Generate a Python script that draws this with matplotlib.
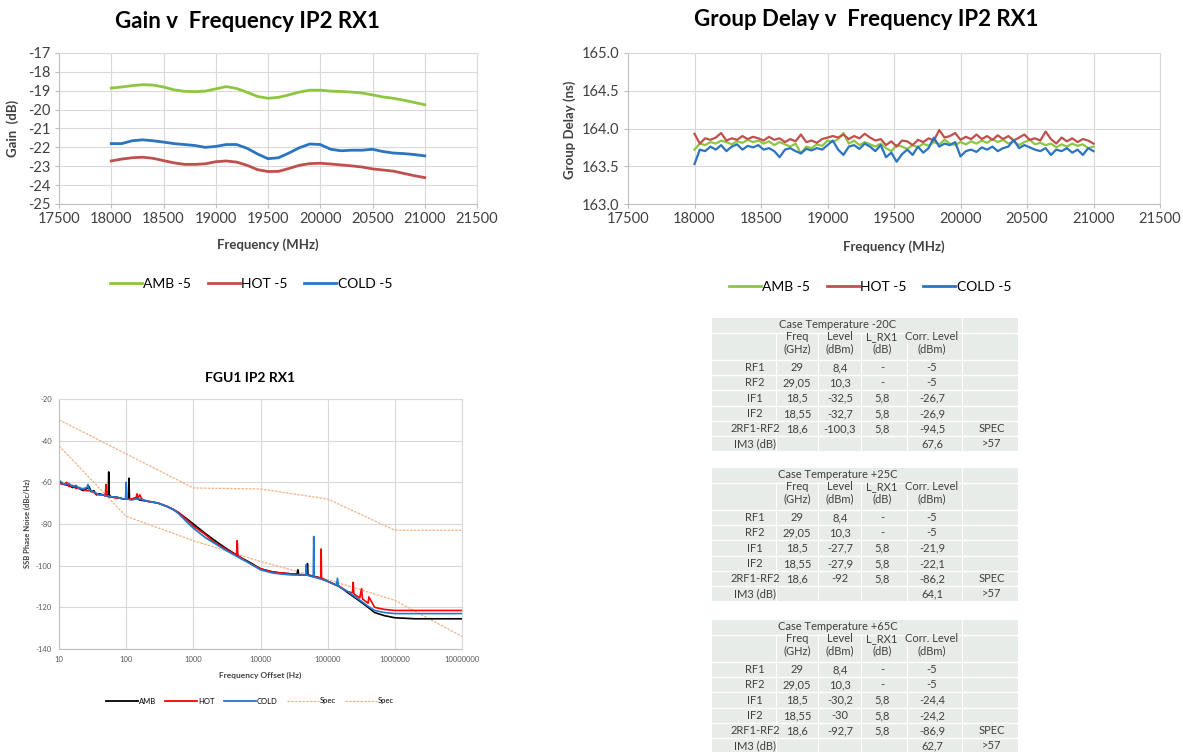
import numpy as np
import matplotlib
matplotlib.use("Agg")
import matplotlib.pyplot as plt
from matplotlib.lines import Line2D
from matplotlib.patches import Rectangle

plt.rcParams['font.family'] = ['Lato', 'DejaVu Sans']
plt.rcParams['axes.unicode_minus'] = False

W, H = 1183, 752

# ---- gain v frequency ----
GAIN_FREQ = [18000, 18100, 18200, 18300, 18400, 18500, 18600, 18700, 18800, 18900,
             19000, 19100, 19200, 19300, 19400, 19500, 19600, 19700, 19800, 19900,
             20000, 20100, 20200, 20300, 20400, 20500, 20600, 20700, 20800, 20900, 21000]
GAIN_AMB = [-18.86, -18.80, -18.73, -18.68, -18.70, -18.80, -18.95, -19.03, -19.05, -19.02,
            -18.90, -18.78, -18.88, -19.08, -19.30, -19.40, -19.35, -19.22, -19.07, -18.97,
            -18.97, -19.02, -19.04, -19.07, -19.12, -19.22, -19.33, -19.40, -19.50, -19.62, -19.74]
GAIN_HOT = [-22.72, -22.62, -22.55, -22.52, -22.58, -22.70, -22.82, -22.90, -22.90, -22.87,
            -22.76, -22.72, -22.78, -22.95, -23.18, -23.28, -23.27, -23.12, -22.95, -22.86,
            -22.84, -22.88, -22.93, -22.98, -23.04, -23.14, -23.20, -23.26, -23.38, -23.50, -23.60]
GAIN_COLD = [-21.80, -21.80, -21.65, -21.60, -21.65, -21.72, -21.80, -21.85, -21.90, -22.00,
             -21.95, -21.85, -21.85, -22.05, -22.35, -22.60, -22.55, -22.30, -22.02, -21.82,
             -21.85, -22.10, -22.18, -22.15, -22.15, -22.10, -22.22, -22.30, -22.33, -22.38, -22.45]

# ---- group delay v frequency (40 MHz measurement grid) ----
GD_FREQ = np.arange(18000, 21001, 40)
GD_AMB = [163.72, 163.80, 163.78, 163.82, 163.80, 163.84, 163.82, 163.79, 163.83, 163.81,
          163.85, 163.82, 163.84, 163.80, 163.83, 163.78, 163.82, 163.79, 163.76, 163.80,
          163.67, 163.76, 163.74, 163.79, 163.77, 163.84, 163.82, 163.86, 163.94, 163.80,
          163.84, 163.78, 163.82, 163.79, 163.76, 163.80, 163.74, 163.70, 163.78, 163.76,
          163.73, 163.78, 163.75, 163.80, 163.77, 163.82, 163.79, 163.85, 163.80, 163.78,
          163.82, 163.79, 163.83, 163.80, 163.84, 163.81, 163.86, 163.82, 163.85, 163.80,
          163.83, 163.78, 163.82, 163.85, 163.79, 163.81, 163.78, 163.80, 163.75, 163.79,
          163.76, 163.80, 163.77, 163.79, 163.74, 163.76]
GD_HOT = [163.93, 163.80, 163.87, 163.85, 163.88, 163.94, 163.84, 163.87, 163.85, 163.90,
          163.86, 163.89, 163.87, 163.84, 163.89, 163.85, 163.87, 163.82, 163.86, 163.83,
          163.92, 163.82, 163.84, 163.81, 163.86, 163.88, 163.90, 163.88, 163.92, 163.86,
          163.90, 163.87, 163.93, 163.88, 163.84, 163.86, 163.78, 163.83, 163.76, 163.84,
          163.83, 163.78, 163.85, 163.82, 163.87, 163.84, 163.98, 163.88, 163.90, 163.94,
          163.85, 163.89, 163.86, 163.92, 163.86, 163.90, 163.85, 163.91, 163.86, 163.90,
          163.84, 163.88, 163.92, 163.85, 163.87, 163.84, 163.96, 163.86, 163.80, 163.88,
          163.83, 163.87, 163.82, 163.86, 163.84, 163.80]
GD_COLD = [163.53, 163.72, 163.70, 163.76, 163.72, 163.78, 163.70, 163.76, 163.79, 163.72,
           163.77, 163.75, 163.78, 163.72, 163.74, 163.70, 163.62, 163.72, 163.74, 163.70,
           163.67, 163.73, 163.71, 163.74, 163.72, 163.78, 163.84, 163.72, 163.65, 163.76,
           163.78, 163.73, 163.80, 163.76, 163.70, 163.78, 163.62, 163.68, 163.56, 163.66,
           163.72, 163.65, 163.76, 163.68, 163.74, 163.88, 163.76, 163.80, 163.78, 163.82,
           163.63, 163.70, 163.72, 163.69, 163.75, 163.72, 163.76, 163.70, 163.74, 163.76,
           163.85, 163.74, 163.78, 163.75, 163.72, 163.70, 163.74, 163.65, 163.72, 163.70,
           163.74, 163.68, 163.72, 163.65, 163.74, 163.70]

# ---- phase noise ----
PN_F_AMB = [10, 12, 14, 16, 18, 20, 23, 26, 28, 30, 33, 36, 40, 45, 50, 54, 55, 56,
            60, 70, 80, 90, 100, 108, 110, 112, 120, 140, 160, 200, 250, 300, 400, 500,
            600, 800, 1000, 1500, 2000, 3000, 5000, 7000, 10000, 15000, 20000, 30000,
            35000, 36000, 37000, 45000, 49000, 50000, 51000, 60000, 80000, 100000,
            150000, 200000, 300000, 400000, 500000, 700000, 1e6, 2e6, 5e6, 1e7]
PN_AMB = [-60, -61, -61.5, -62.5, -62, -63, -64, -63, -62, -64.5, -64, -66, -65.5, -66,
          -66.5, -66, -55, -66, -67, -67, -67.5, -68, -68, -68, -58, -68, -68, -67.5,
          -68.5, -69, -69.5, -70, -71.5, -73, -74.5, -77.5, -80, -84.5, -87.5, -91.5,
          -96, -98.5, -101.5, -103, -103.5, -104, -104, -102, -104.5, -104.5, -104.5,
          -99, -104.5, -105, -106, -107.5, -110, -113, -117, -120, -122.5, -124, -125,
          -125.5, -125.5, -125.5]
PN_F_HOT = [10, 12, 13, 14, 16, 18, 20, 23, 26, 30, 35, 40, 45, 49, 50, 51, 55, 60, 70,
            80, 90, 100, 120, 140, 145, 150, 160, 170, 200, 250, 300, 400, 500, 600, 800,
            1000, 1500, 2000, 3000, 4400, 4500, 4600, 5000, 7000, 10000, 15000, 20000,
            30000, 50000, 60000, 79000, 80000, 81000, 100000, 150000, 200000, 235000,
            240000, 245000, 300000, 320000, 330000, 400000, 410000, 500000, 700000,
            1e6, 2e6, 5e6, 1e7]
PN_HOT = [-60.5, -61, -60, -62, -61.5, -63, -62.5, -63.5, -64, -64, -65.5, -66, -66,
          -66.5, -61, -66.5, -67, -67, -67.5, -67.5, -68, -68, -68, -67.5, -65.5, -67.5,
          -66, -68, -69, -69.5, -70, -71.5, -73, -74.5, -78, -81, -85, -88.5, -92, -95,
          -88, -95, -96, -99, -101.5, -103, -103.5, -104, -104.5, -105, -106, -92, -106,
          -107.5, -110, -112.5, -113, -108, -113.5, -115.5, -111, -116, -118, -115, -120,
          -121, -121.5, -121.5, -121.5, -121.5]
PN_F_COLD = [10, 12, 14, 16, 18, 20, 23, 26, 27, 28, 30, 35, 40, 45, 50, 55, 60, 70, 80,
             90, 98, 100, 102, 120, 140, 160, 200, 250, 300, 400, 500, 600, 800, 1000,
             1500, 2000, 3000, 5000, 7000, 10000, 15000, 20000, 30000, 40000, 47000,
             48000, 49000, 55000, 61000, 62000, 63000, 80000, 100000, 135000, 140000,
             145000, 200000, 300000, 400000, 500000, 700000, 1e6, 2e6, 5e6, 1e7]
PN_COLD = [-59, -61, -60.5, -62, -61.5, -63, -63, -62.5, -61, -63.5, -64, -65, -66, -66,
           -66.5, -66.5, -67, -67, -67.5, -68, -68, -60, -68, -68.5, -68, -68, -69, -69.5,
           -70, -71.5, -73, -75, -79, -82, -86.5, -89, -92.5, -96.5, -99, -102, -103.5,
           -104, -104.5, -104.5, -104.5, -99.5, -104.5, -105, -105.5, -86, -105.5, -106.5,
           -107.5, -109.5, -106, -110, -112.5, -116.5, -119.5, -121.5, -122.5, -123, -123,
           -123, -123]
SPEC1_F = [10, 1000, 10000, 100000, 1e6, 1e7]
SPEC1 = [-30, -62.7, -63.2, -68, -83, -83]
SPEC2_F = [10, 100, 1000, 10000, 100000, 1e6, 1e7]
SPEC2 = [-42.5, -76.3, -88, -98, -106.7, -116.6, -134]

# ---- IM3 tables ----
TEMPS = ['-20C', '+25C', '+65C']
ROW_LABELS = ['RF1', 'RF2', 'IF1', 'IF2', '2RF1-RF2', 'IM3 (dB)']
FREQ_GHZ = ['29', '29,05', '18,5', '18,55', '18,6', '']
L_RX1 = ['-', '-', '5,8', '5,8', '5,8', '']
SPEC_COL = ['', '', '', '', 'SPEC', '>57']
LEVELS = [['8,4', '10,3', '-32,5', '-32,7', '-100,3', ''],
          ['8,4', '10,3', '-27,7', '-27,9', '-92', ''],
          ['8,4', '10,3', '-30,2', '-30', '-92,7', '']]
CORR = [['-5', '-5', '-26,7', '-26,9', '-94,5', '67,6'],
        ['-5', '-5', '-21,9', '-22,1', '-86,2', '64,1'],
        ['-5', '-5', '-24,4', '-24,2', '-86,9', '62,7']]

GREEN, RED, BLUE = '#8dc63f', '#c0504d', '#2a74c0'
TXT = '#404040'


def px_axes(fig, l, t, r, b):
    return fig.add_axes([l / W, 1 - b / H, (r - l) / W, (b - t) / H])


def fig_text(fig, x, y, s, **kw):
    fig.text(x / W, 1 - y / H, s, ha='center', va='center', color=kw.pop('color', '#000000'), **kw)


def excel_style(ax, fs):
    ax.grid(True, color='#d9d9d9', lw=0.8)
    ax.set_axisbelow(True)
    for s in ax.spines.values():
        s.set_color('#d9d9d9')
        s.set_linewidth(0.8)
    ax.spines['left'].set_color('#bfbfbf')
    ax.spines['bottom'].set_color('#bfbfbf')
    ax.tick_params(direction='out', length=3, color='#bfbfbf', labelsize=fs,
                   labelcolor=TXT, pad=3)


def fig_legend(fig, x, y, handles, labels, fs, hl):
    fig.legend(handles, labels, loc='center', bbox_to_anchor=(x / W, 1 - y / H), ncol=len(handles),
               frameon=False, fontsize=fs, handlelength=hl, handletextpad=0.1,
               columnspacing=1.2, borderaxespad=0)


fig = plt.figure(figsize=(W / 100, H / 100), dpi=100)

# gain
ax = px_axes(fig, 59, 53, 477, 204)
ax.plot(GAIN_FREQ, GAIN_AMB, color=GREEN, lw=2)
ax.plot(GAIN_FREQ, GAIN_HOT, color=RED, lw=2)
ax.plot(GAIN_FREQ, GAIN_COLD, color=BLUE, lw=2)
ax.set_xlim(17500, 21500)
ax.set_ylim(-25, -17)
ax.set_xticks(np.arange(17500, 21501, 500))
ax.set_yticks(np.arange(-25, -16, 1))
excel_style(ax, 10.5)
fig_text(fig, 247, 22, 'Gain v  Frequency IP2 RX1', fontsize=16, fontweight='bold')
fig_text(fig, 268, 245, 'Frequency (MHz)', fontsize=9.5, fontweight='bold', color=TXT)
fig_text(fig, 13, 128, 'Gain  (dB)', fontsize=9.5, fontweight='bold', color=TXT, rotation=90)
h3 = [Line2D([], [], color=c, lw=2) for c in (GREEN, RED, BLUE)]
fig_legend(fig, 251, 284, h3, ['AMB -5', 'HOT -5', 'COLD -5'], 10, 2.3)

# group delay
ax = px_axes(fig, 628, 53, 1160, 204)
ax.plot(GD_FREQ, GD_AMB, color=GREEN, lw=1.6)
ax.plot(GD_FREQ, GD_HOT, color=RED, lw=1.6)
ax.plot(GD_FREQ, GD_COLD, color=BLUE, lw=1.6)
ax.set_xlim(17500, 21500)
ax.set_ylim(163.0, 165.0)
ax.set_xticks(np.arange(17500, 21501, 500))
ax.set_yticks(np.arange(163.0, 165.01, 0.5))
ax.yaxis.set_major_formatter(matplotlib.ticker.FormatStrFormatter('%.1f'))
excel_style(ax, 10.5)
fig_text(fig, 866, 20, 'Group Delay v  Frequency IP2 RX1', fontsize=16, fontweight='bold')
fig_text(fig, 894, 247, 'Frequency (MHz)', fontsize=9.5, fontweight='bold', color=TXT)
fig_text(fig, 570, 130, 'Group Delay (ns)', fontsize=9.5, fontweight='bold', color=TXT, rotation=90)
fig_legend(fig, 870, 287, h3, ['AMB -5', 'HOT -5', 'COLD -5'], 10, 2.3)

# phase noise
ax = px_axes(fig, 59, 399, 462, 649)
ax.plot(SPEC1_F, SPEC1, color='#f4b183', lw=0.9, ls=(0, (2, 1)))
ax.plot(SPEC2_F, SPEC2, color='#f4b183', lw=0.9, ls=(0, (2, 1)))
ax.plot(PN_F_AMB, PN_AMB, color='#000000', lw=1.2)
ax.plot(PN_F_HOT, PN_HOT, color='#ff0000', lw=1.2)
ax.plot(PN_F_COLD, PN_COLD, color='#1f78d1', lw=1.2)
ax.set_xscale('log')
ax.set_xlim(10, 1e7)
ax.set_ylim(-140, -20)
ax.set_yticks(np.arange(-140, -19, 20))
ax.set_xticks([10, 100, 1000, 10000, 100000, 1000000, 10000000])
ax.set_xticklabels(['10', '100', '1000', '10000', '100000', '1000000', '10000000'])
ax.minorticks_off()
excel_style(ax, 5.5)
ax.tick_params(length=0, pad=5, labelcolor='#595959')
fig_text(fig, 250, 378, 'FGU1 IP2 RX1', fontsize=10, fontweight='bold')
fig_text(fig, 260, 675, 'Frequency Offset (Hz)', fontsize=6, fontweight='bold', color=TXT)
fig_text(fig, 27, 524, 'SSB Phase Noise (dBc/Hz)', fontsize=5.5, fontweight='bold', color=TXT, rotation=90)
h5 = [Line2D([], [], color=c, lw=1.3) for c in ('#000000', '#ff0000', '#1f78d1')]
h5 += [Line2D([], [], color='#f4b183', lw=0.9, ls=(0, (2, 1))) for _ in range(2)]
fig_legend(fig, 250, 701, h5, ['AMB', 'HOT', 'COLD', 'Spec', 'Spec'], 5.5, 4.2)

# tables
tab = fig.add_axes([0, 0, 1, 1])
tab.set_xlim(0, W)
tab.set_ylim(H, 0)
tab.axis('off')
col_edges = [712, 776, 818, 861, 907, 962, 1018]
col_centres = [755, 797, 840, 882, 932, 992]
row_edges = [0, 15, 42, 57, 72, 88, 103, 118, 133]
row_centres = [49.5, 64.5, 80, 95.5, 110.5, 125.5]
for k, top in enumerate([318, 468, 620]):
    tab.add_patch(Rectangle((col_edges[0], top), col_edges[-1] - col_edges[0], row_edges[-1],
                            facecolor='#e8ece8', edgecolor='none'))
    for e in row_edges[1:-1]:
        tab.plot([col_edges[0], col_edges[-1]], [top + e, top + e], color='white', lw=1)
    for e in col_edges[1:-1]:
        tab.plot([e, e], [top + 15, top + row_edges[-1]], color='white', lw=0.8)
    tab.plot([962, 962], [top, top + 15], color='white', lw=0.8)
    kw = dict(ha='center', va='center', fontsize=8, color=TXT)
    tab.text(838, top + 7, 'Case Temperature ' + TEMPS[k], **kw)
    for c, (l1, l2) in enumerate([('Freq', '(GHz)'), ('Level', '(dBm)'),
                                  ('L_RX1', '(dB)'), ('Corr. Level', '(dBm)')]):
        tab.text(col_centres[c + 1], top + 19, l1, **kw)
        tab.text(col_centres[c + 1], top + 31, l2, **kw)
    for r in range(6):
        y = top + row_centres[r]
        cells = [ROW_LABELS[r], FREQ_GHZ[r], LEVELS[k][r], L_RX1[r], CORR[k][r], SPEC_COL[r]]
        for c, s in enumerate(cells):
            tab.text(col_centres[c], y, s, **kw)

fig.savefig('out.png', dpi=100)
